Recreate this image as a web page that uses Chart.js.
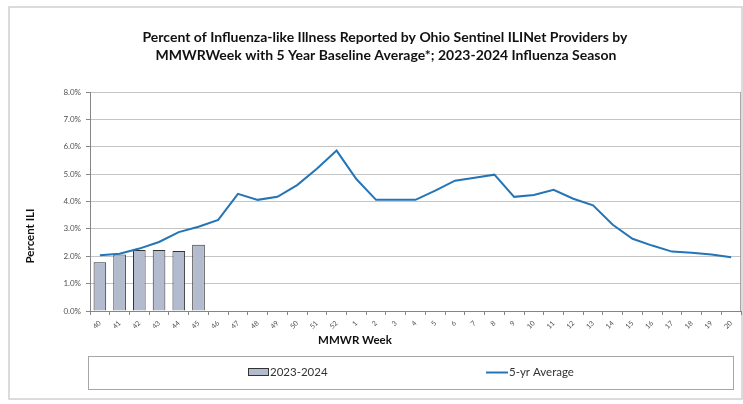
<!DOCTYPE html>
<html>
<head>
<meta charset="utf-8">
<script src="https://cdn.jsdelivr.net/npm/chart.js@4"></script>
<style>
  html, body { margin: 0; padding: 0; background: #fff; }
  #wrap { width: 743px; height: 404px; position: relative; }
</style>
</head>
<body>
<div id="wrap"><canvas id="iliChart" width="743" height="404"></canvas></div>
<script>
// MMWR weeks of the 2023-2024 season
const weeks = ['40','41','42','43','44','45','46','47','48','49','50','51','52',
  '1','2','3','4','5','6','7','8','9','10','11','12','13','14','15','16','17','18','19','20'];

// percent ILI reported this season (only the first weeks are in)
const season2324 = [1.78, 2.06, 2.23, 2.23, 2.19, 2.42];

// 5 year baseline average
const fiveYrAvg = [2.04, 2.09, 2.28, 2.52, 2.88, 3.08, 3.33, 4.28, 4.06, 4.17, 4.6, 5.2, 5.86,
  4.82, 4.06, 4.06, 4.06, 4.4, 4.76, 4.87, 4.98, 4.17, 4.24, 4.43, 4.1, 3.86, 3.15, 2.64, 2.39, 2.17, 2.13, 2.06, 1.96];

const yTicks = [0, 1, 2, 3, 4, 5, 6, 7, 8];

const titleLines = [
  'Percent of Influenza-like Illness Reported by Ohio Sentinel ILINet Providers by',
  'MMWRWeek with 5 Year Baseline Average*; 2023-2024 Influenza Season'
];

const FONT = 'Lato, "Open Sans", sans-serif';

// frame, titles and the legend box are drawn by hand
const decor = {
  id: 'decor',
  beforeDraw(chart) {
    const c = chart.ctx;
    c.save();
    c.fillStyle = '#fff';
    c.fillRect(0, 0, chart.width, chart.height);
    c.strokeStyle = '#d0d0d0';
    c.lineWidth = 1.5;
    c.strokeRect(9, 7, 733, 392);
    c.restore();
  },
  afterDraw(chart) {
    const c = chart.ctx;
    const a = chart.chartArea;
    c.save();
    // right edge of plot
    c.strokeStyle = '#a6a6a6';
    c.lineWidth = 1;
    c.beginPath();
    c.moveTo(Math.round(a.right) - 0.5, a.top);
    c.lineTo(Math.round(a.right) - 0.5, a.bottom);
    c.stroke();

    // title
    c.fillStyle = '#111';
    c.font = 'bold 14px ' + FONT;
    c.textAlign = 'center';
    c.textBaseline = 'middle';
    c.fillText(titleLines[0], 385, 37);
    c.fillText(titleLines[1], 386, 55);

    // axis titles
    c.font = 'bold 11.5px ' + FONT;
    c.fillText('MMWR Week', 355, 340);
    c.save();
    c.translate(30, 236);
    c.rotate(-Math.PI / 2);
    c.fillText('Percent ILI', 0, 0);
    c.restore();

    // legend
    c.strokeStyle = '#a6a6a6';
    c.strokeRect(88.5, 356.5, 645, 33);
    const barDs = chart.data.datasets[0];
    const lineDs = chart.data.datasets[1];
    c.fillStyle = barDs.backgroundColor;
    c.fillRect(249, 369, 20, 6);
    c.strokeStyle = barDs.borderColor;
    c.strokeRect(248.5, 368.5, 20, 7);
    c.strokeStyle = lineDs.borderColor;
    c.lineWidth = 2;
    c.beginPath();
    c.moveTo(486, 372.5);
    c.lineTo(508, 372.5);
    c.stroke();
    c.fillStyle = '#333';
    c.font = '11.5px ' + FONT;
    c.textAlign = 'left';
    c.fillText(barDs.label, 270, 372.5);
    c.fillText(lineDs.label, 509, 372.5);
    c.restore();
  }
};

const ctx = document.getElementById('iliChart').getContext('2d');

new Chart(ctx, {
  type: 'bar',
  data: {
    labels: weeks,
    datasets: [
      {
        label: '2023-2024',
        data: season2324,
        backgroundColor: '#b3bbce',
        borderColor: '#333333',
        borderWidth: 1,
        categoryPercentage: 1,
        barPercentage: 0.64,
        order: 2
      },
      {
        type: 'line',
        label: '5-yr Average',
        data: fiveYrAvg,
        borderColor: '#2474b6',
        borderWidth: 2,
        pointRadius: 0,
        tension: 0,
        fill: false,
        order: 1
      }
    ]
  },
  options: {
    responsive: false,
    animation: false,
    layout: { padding: { left: 0, top: 92, right: 2, bottom: 0 } },
    plugins: {
      legend: { display: false },
      title: { display: false },
      tooltip: { enabled: false }
    },
    scales: {
      x: {
        grid: { offset: true, drawOnChartArea: false, drawTicks: true, tickLength: 4, color: '#868686' },
        border: { color: '#868686' },
        ticks: {
          color: '#505050',
          font: { family: FONT, size: 7 },
          minRotation: 45,
          maxRotation: 45,
          padding: 4,
          autoSkip: false
        },
        afterFit(scale) { scale.height = 93; }
      },
      y: {
        min: 0,
        max: 8,
        afterBuildTicks(scale) { scale.ticks = yTicks.map(v => ({ value: v })); },
        grid: { color: '#c4c4c4', tickLength: 4, tickColor: '#868686' },
        border: { color: '#868686' },
        ticks: {
          color: '#505050',
          font: { family: FONT, size: 8 },
          padding: 5,
          callback: v => v.toFixed(1) + '%'
        },
        afterFit(scale) { scale.width = 90; }
      }
    }
  },
  plugins: [decor]
});
</script>
</body>
</html>
